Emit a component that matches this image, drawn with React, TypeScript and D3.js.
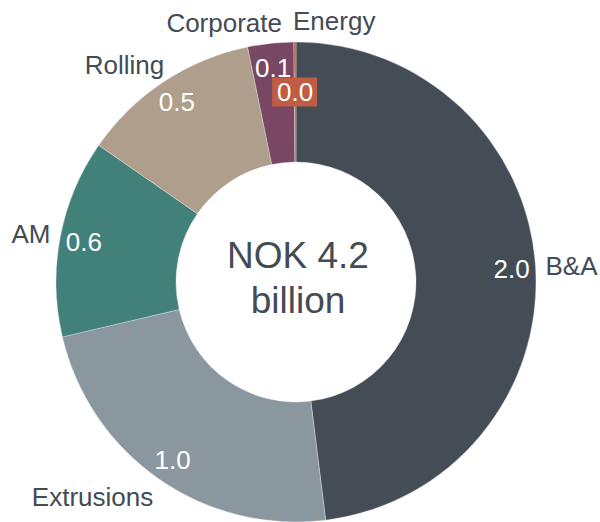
import React from "react";
import * as d3 from "d3";

// segments, clockwise from 12 o'clock (NOK billion)
const segments = ["B&A", "Extrusions", "AM", "Rolling", "Corporate", "Energy"];
const values = [2.02, 0.98, 0.56, 0.51, 0.13, 0.006];
const colors = ["#444c56", "#8a979f", "#42807a", "#ae9e8b", "#774764", "#c05b44"];
const centerTitle = "NOK";
const centerUnit = "billion";

const W = 600;
const H = 522;
const cx = 296;
const cy = 282;
const outerR = 240;
const innerR = 120;
const textColor = "#434b55";
const font = "'Liberation Sans', Arial, sans-serif";

export default function App() {
  const data = segments.map((name, i) => ({ name, value: values[i], color: colors[i] }));
  const pie = d3
    .pie<any>()
    .sort(null)
    .value((d) => d.value);
  const arcs = pie(data);
  const arc = d3.arc<any>().innerRadius(innerR).outerRadius(outerR);
  const fmt = d3.format(".1f");
  const total = d3.sum(values);

  const polar = (a: number, r: number) => [Math.sin(a) * r, -Math.cos(a) * r];

  return (
    <svg
      width={W}
      height={H}
      style={{ position: "absolute", left: 0, top: 0, fontFamily: font }}
    >
      <g transform={`translate(${cx}, ${cy})`}>
        {arcs.map((d, i) => (
          <path key={i} d={arc(d) as string} fill={d.data.color} stroke="#ffffff" strokeWidth={0.3} />
        ))}

        {/* value labels inside the ring */}
        {arcs.map((d, i) => {
          const mid = (d.startAngle + d.endAngle) / 2;
          const small = d.endAngle - d.startAngle < 0.05;
          const [x, y] = polar(mid, small ? 190 : 216);
          const label = fmt(d.data.value);
          return (
            <g key={i}>
              {small && (
                <rect x={x - 23} y={y - 14.5} width={45} height={29} fill={d.data.color} />
              )}
              <text
                x={x}
                y={y}
                dy="0.36em"
                textAnchor="middle"
                fontSize={26}
                fill="#ffffff"
              >
                {label}
              </text>
            </g>
          );
        })}

        {/* category labels outside the ring */}
        {arcs.map((d, i) => {
          const mid = (d.startAngle + d.endAngle) / 2;
          const [px, py] = polar(mid, 250);
          const s = Math.sin(mid);
          const c = Math.cos(mid);
          let x = px;
          const anchor = s >= -0.01 ? "start" : "end";
          if (Math.abs(s) < 0.15 && c > 0) {
            // labels sitting on top of the ring share the vertical line
            x = anchor === "start" ? -3 : -14;
          } else if (anchor === "end" && c > 0.5) {
            x = px + 6;
          }
          const yc = py - c * 11;
          return (
            <text
              key={i}
              x={x}
              y={yc}
              dy="0.36em"
              textAnchor={anchor}
              fontSize={26}
              fill={textColor}
            >
              {d.data.name}
            </text>
          );
        })}

        <text x={2} y={-14} textAnchor="middle" fontSize={37} fill={textColor}>
          {`${centerTitle} ${fmt(total)}`}
        </text>
        <text x={2} y={31} textAnchor="middle" fontSize={37} fill={textColor}>
          {centerUnit}
        </text>
      </g>
    </svg>
  );
}
